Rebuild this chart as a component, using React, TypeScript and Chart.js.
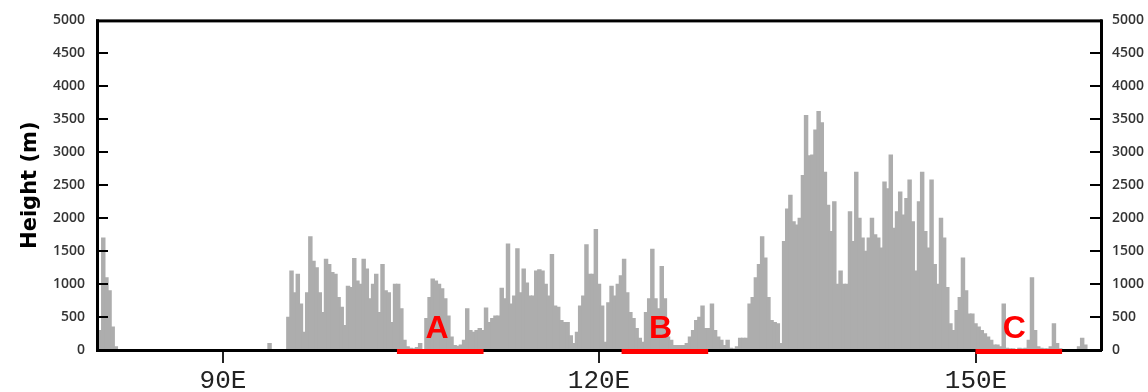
import { useEffect, useRef } from "react";
import { Chart, registerables } from "chart.js";

Chart.register(...registerables);

// Section starts at 80E, sampled every 0.25 degree
const LON_START = 80;
const LON_STEP = 0.25;

// Terrain height (m), four samples per degree of longitude
const HEIGHTS: number[] = [
  0, 300, 1700, 1100, // 80E
  900, 350, 50, 0, // 81E
  0, 0, 0, 0, // 82E
  0, 0, 0, 0, // 83E
  0, 0, 0, 0, // 84E
  0, 0, 0, 0, // 85E
  0, 0, 0, 0, // 86E
  0, 0, 0, 0, // 87E
  0, 0, 0, 0, // 88E
  0, 0, 0, 0, // 89E
  0, 0, 0, 0, // 90E
  0, 0, 0, 0, // 91E
  0, 0, 0, 0, // 92E
  0, 0, 0, 100, // 93E
  0, 0, 0, 0, // 94E
  0, 500, 1200, 870, // 95E
  1150, 700, 270, 870, // 96E
  1720, 1350, 1250, 870, // 97E
  570, 1380, 1300, 1180, // 98E
  1150, 800, 650, 375, // 99E
  970, 950, 1390, 1050, // 100E
  1000, 1380, 1230, 780, // 101E
  1000, 1150, 570, 1300, // 102E
  900, 870, 420, 1000, // 103E
  1000, 630, 150, 50, // 104E
  30, 20, 40, 100, // 105E
  0, 480, 800, 1080, // 106E
  1050, 1000, 930, 780, // 107E
  520, 200, 70, 60, // 108E
  80, 150, 630, 300, // 109E
  270, 300, 330, 300, // 110E
  640, 420, 480, 520, // 111E
  520, 940, 780, 1610, // 112E
  700, 820, 1540, 870, // 113E
  1230, 1020, 820, 820, // 114E
  1200, 1220, 1200, 1000, // 115E
  820, 1450, 670, 650, // 116E
  450, 420, 420, 220, // 117E
  100, 270, 670, 820, // 118E
  1600, 1150, 1150, 1830, // 119E
  1000, 670, 120, 720, // 120E
  970, 820, 1000, 1130, // 121E
  1380, 870, 570, 480, // 122E
  330, 180, 120, 570, // 123E
  780, 1530, 780, 630, // 124E
  1270, 780, 200, 150, // 125E
  70, 70, 70, 70, // 126E
  100, 200, 300, 450, // 127E
  500, 670, 330, 330, // 128E
  700, 300, 200, 150, // 129E
  70, 150, 30, 20, // 130E
  50, 180, 180, 180, // 131E
  700, 800, 1100, 1300, // 132E
  1720, 1400, 800, 450, // 133E
  420, 400, 100, 1650, // 134E
  2140, 2350, 1950, 1900, // 135E
  2000, 2650, 3560, 2950, // 136E
  2960, 3340, 3620, 3450, // 137E
  2700, 2200, 1800, 2250, // 138E
  1000, 1200, 1000, 1000, // 139E
  2100, 1650, 2700, 2000, // 140E
  1700, 1500, 1700, 2000, // 141E
  1750, 1700, 1550, 2550, // 142E
  2450, 2960, 1850, 2100, // 143E
  2400, 2050, 2300, 2580, // 144E
  1950, 1200, 2250, 2700, // 145E
  1800, 1550, 2580, 1300, // 146E
  1000, 2000, 1700, 950, // 147E
  400, 300, 600, 800, // 148E
  1400, 900, 550, 550, // 149E
  400, 350, 300, 250, // 150E
  200, 150, 80, 80, // 151E
  50, 700, 30, 20, // 152E
  20, 0, 30, 20, // 153E
  30, 150, 1100, 300, // 154E
  50, 30, 20, 20, // 155E
  50, 400, 100, 20, // 156E
  0, 0, 0, 0, // 157E
  0, 50, 180, 80, // 158E
  0, 0, 0, 0, // 159E
  0, // 160E
];

// Longitude axis
const X_MIN = 80;
const X_MAX = 160;
const X_TICKS = [90, 120, 150];

// Height axis
const Y_MIN = 0;
const Y_MAX = 5000;
const Y_STEP = 500;

// Marked coastal stretches along the section
const SEGMENT_NAMES = ["A", "B", "C"];
const SEGMENT_START = [103.9, 121.8, 150.0];
const SEGMENT_END = [110.8, 128.7, 156.9];
const SEGMENT_LABEL_LON = [107.1, 124.9, 153.1];

const BAR_COLOR = "#adadad";
const MARK_COLOR = "#ff0000";

const points = HEIGHTS.map((h, i) => ({ x: LON_START + i * LON_STEP, y: h }));

// Frame, inward y ticks, longitude ticks/labels and the red A/B/C markers
const overlayPlugin = {
  id: "sectionOverlay",
  afterDraw(chart: any) {
    const ctx: CanvasRenderingContext2D = chart.ctx;
    const { left, right, top, bottom } = chart.chartArea;
    const ys = chart.scales.y;
    const xs = chart.scales.x;
    ctx.save();
    ctx.globalAlpha = 1;
    ctx.setLineDash([]);

    // inward tick marks on both sides
    ctx.fillStyle = "#000000";
    for (let v = Y_MIN + Y_STEP; v < Y_MAX; v += Y_STEP) {
      const py = Math.round(ys.getPixelForValue(v));
      ctx.fillRect(left, py - 1, 11, 2);
      ctx.fillRect(right - 11, py - 1, 11, 2);
    }

    // plot frame
    ctx.fillRect(left - 1, top - 1, right - left + 2, 3);
    ctx.fillRect(left - 1, bottom - 1, right - left + 2, 3);
    ctx.fillRect(left - 1, top - 1, 3, bottom - top + 2);
    ctx.fillRect(right - 1, top - 1, 3, bottom - top + 2);

    // longitude ticks below the axis and their labels
    ctx.fillStyle = "#222222";
    ctx.font = "26px 'Liberation Mono', 'DejaVu Sans Mono', monospace";
    ctx.textAlign = "center";
    ctx.textBaseline = "top";
    for (const lon of X_TICKS) {
      const px = Math.round(xs.getPixelForValue(lon));
      ctx.fillRect(px - 1, bottom + 2, 2, 11);
      ctx.fillText(`${lon}E`, px, bottom + 18);
    }

    // red stretches on the baseline and their letters
    ctx.fillStyle = MARK_COLOR;
    for (let i = 0; i < SEGMENT_NAMES.length; i++) {
      const x0 = xs.getPixelForValue(SEGMENT_START[i]);
      const x1 = xs.getPixelForValue(SEGMENT_END[i]);
      ctx.fillRect(x0, bottom - 1, x1 - x0, 5);
    }
    ctx.font = "bold 32px 'Liberation Sans', Arial, sans-serif";
    ctx.textAlign = "center";
    ctx.textBaseline = "alphabetic";
    for (let i = 0; i < SEGMENT_NAMES.length; i++) {
      ctx.fillText(SEGMENT_NAMES[i], xs.getPixelForValue(SEGMENT_LABEL_LON[i]), bottom - 12);
    }
    ctx.restore();
  },
};

export default function App() {
  const canvasRef = useRef<HTMLCanvasElement | null>(null);

  useEffect(() => {
    const canvas = canvasRef.current;
    if (!canvas) return;
    const yTickFont = { family: "'Open Sans', 'DejaVu Sans', sans-serif", size: 14, weight: "600" };
    const chart = new Chart(canvas, {
      type: "bar",
      data: {
        datasets: [
          {
            data: points as any,
            backgroundColor: BAR_COLOR,
            borderWidth: 0,
            barThickness: 3.8,
            yAxisID: "y",
          },
        ],
      },
      options: {
        responsive: false,
        animation: false,
        events: [],
        layout: { padding: { top: 16, left: 0, right: 0, bottom: 42 } },
        plugins: {
          legend: { display: false },
          tooltip: { enabled: false },
          title: { display: false },
        },
        scales: {
          x: {
            type: "linear",
            display: false,
            min: X_MIN,
            max: X_MAX,
            offset: false,
          },
          y: {
            type: "linear",
            position: "left",
            min: Y_MIN,
            max: Y_MAX,
            afterFit: (scale: any) => {
              scale.width = 97;
            },
            ticks: {
              stepSize: Y_STEP,
              padding: 12,
              color: "#333",
              font: yTickFont as any,
              callback: (v: any) => String(v),
            },
            grid: { display: false, drawTicks: false },
            border: { display: false },
            title: {
              display: true,
              text: "Height (m)",
              color: "#000",
              padding: 18,
              font: { family: "'DejaVu Sans', sans-serif", size: 21, weight: "bold" },
            },
          },
          y2: {
            type: "linear",
            position: "right",
            display: true,
            min: Y_MIN,
            max: Y_MAX,
            afterFit: (scale: any) => {
              scale.width = 47;
            },
            ticks: {
              stepSize: Y_STEP,
              padding: 11,
              color: "#333",
              font: yTickFont as any,
              callback: (v: any) => String(v),
            },
            grid: { display: false, drawTicks: false },
            border: { display: false },
          },
        },
      },
      plugins: [overlayPlugin],
    });
    return () => chart.destroy();
  }, []);

  return (
    <div style={{ position: "absolute", left: 0, top: 0, width: 1148, height: 392, background: "#fff" }}>
      <canvas ref={canvasRef} width={1148} height={392} />
    </div>
  );
}
